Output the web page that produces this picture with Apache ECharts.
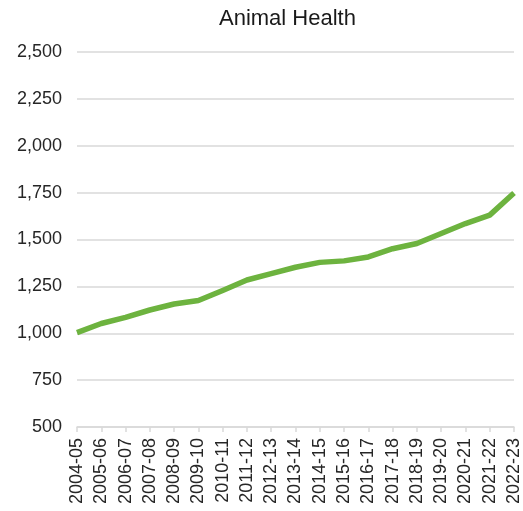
<!DOCTYPE html>
<html>
<head>
<meta charset="utf-8">
<script src="https://cdn.jsdelivr.net/npm/echarts@6/dist/echarts.min.js"></script>
<style>
  html, body { margin: 0; padding: 0; background: #fff; }
  #chart { width: 523px; height: 511px; }
</style>
</head>
<body>
<div id="chart"></div>
<script>
// Financial years on the category axis
const years = [
  '2004-05', '2005-06', '2006-07', '2007-08', '2008-09', '2009-10', '2010-11',
  '2011-12', '2012-13', '2013-14', '2014-15', '2015-16', '2016-17', '2017-18',
  '2018-19', '2019-20', '2020-21', '2021-22', '2022-23'
];

// Animal Health values per year
const animalHealth = [
  1003, 1052, 1085, 1124, 1156, 1175, 1228, 1284, 1318, 1352,
  1378, 1386, 1407, 1451, 1479, 1532, 1585, 1630, 1748
];

// Value axis range and step
const yMin = 500;
const yMax = 2500;
const yStep = 250;

const chart = echarts.init(document.getElementById('chart'));
const font = 'Liberation Sans, Arial, sans-serif';

chart.setOption({
  animation: false,
  title: {
    text: 'Animal Health',
    left: 214,
    top: 3,
    textStyle: { fontFamily: font, fontSize: 22, fontWeight: 'normal', color: '#1a1a1a' }
  },
  grid: { left: 77, right: 6, top: 52, bottom: 84, containLabel: false },
  xAxis: {
    type: 'category',
    data: years,
    boundaryGap: false,
    axisLine: { lineStyle: { color: '#d9d9d9', width: 1.5 } },
    axisTick: { show: true, alignWithLabel: true, length: 5, lineStyle: { color: '#d9d9d9', width: 1.5 } },
    axisLabel: {
      rotate: 90,
      interval: 0,
      margin: 11,
      fontFamily: font,
      fontSize: 18,
      color: '#262626'
    }
  },
  yAxis: {
    type: 'value',
    min: yMin,
    max: yMax,
    interval: yStep,
    axisLine: { show: false },
    axisTick: { show: false },
    splitLine: { lineStyle: { color: '#d9d9d9', width: 1.5 } },
    axisLabel: {
      margin: 15,
      fontFamily: font,
      fontSize: 18,
      color: '#262626',
      formatter: v => v.toLocaleString('en-US')
    }
  },
  series: [{
    type: 'line',
    data: animalHealth,
    showSymbol: false,
    lineStyle: { color: '#6db33f', width: 5.5, cap: 'butt', join: 'round' }
  }]
});
</script>
</body>
</html>
